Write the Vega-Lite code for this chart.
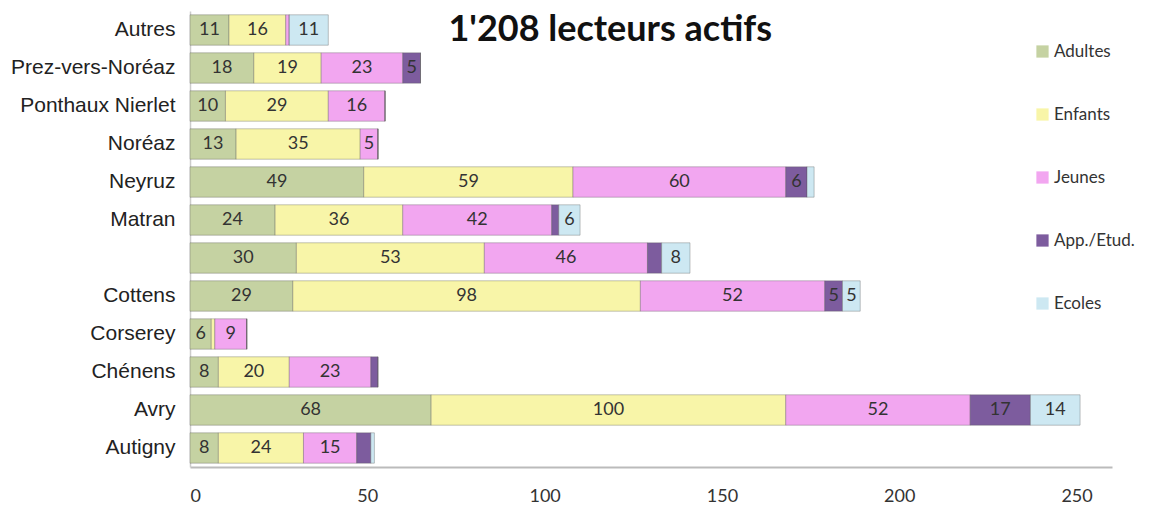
{
  "$schema": "https://vega.github.io/schema/vega-lite/v6.json",
  "width": 922,
  "height": 456,
  "autosize": {"type": "none"},
  "padding": {"left": 190, "top": 11, "right": 44, "bottom": 39},
  "background": "white",
  "config": {"view": {"stroke": null}},
  "data": {
    "values": [
      {"commune": "Autres", "type": "Adultes", "value": 11},
      {"commune": "Autres", "type": "Enfants", "value": 16},
      {"commune": "Autres", "type": "Jeunes", "value": 1},
      {"commune": "Autres", "type": "App./Etud.", "value": 0},
      {"commune": "Autres", "type": "Ecoles", "value": 11},
      {"commune": "Prez-vers-Noréaz", "type": "Adultes", "value": 18},
      {"commune": "Prez-vers-Noréaz", "type": "Enfants", "value": 19},
      {"commune": "Prez-vers-Noréaz", "type": "Jeunes", "value": 23},
      {"commune": "Prez-vers-Noréaz", "type": "App./Etud.", "value": 5},
      {"commune": "Prez-vers-Noréaz", "type": "Ecoles", "value": 0},
      {"commune": "Ponthaux Nierlet", "type": "Adultes", "value": 10},
      {"commune": "Ponthaux Nierlet", "type": "Enfants", "value": 29},
      {"commune": "Ponthaux Nierlet", "type": "Jeunes", "value": 16},
      {"commune": "Ponthaux Nierlet", "type": "App./Etud.", "value": 0},
      {"commune": "Ponthaux Nierlet", "type": "Ecoles", "value": 0},
      {"commune": "Noréaz", "type": "Adultes", "value": 13},
      {"commune": "Noréaz", "type": "Enfants", "value": 35},
      {"commune": "Noréaz", "type": "Jeunes", "value": 5},
      {"commune": "Noréaz", "type": "App./Etud.", "value": 0},
      {"commune": "Noréaz", "type": "Ecoles", "value": 0},
      {"commune": "Neyruz", "type": "Adultes", "value": 49},
      {"commune": "Neyruz", "type": "Enfants", "value": 59},
      {"commune": "Neyruz", "type": "Jeunes", "value": 60},
      {"commune": "Neyruz", "type": "App./Etud.", "value": 6},
      {"commune": "Neyruz", "type": "Ecoles", "value": 2},
      {"commune": "Matran", "type": "Adultes", "value": 24},
      {"commune": "Matran", "type": "Enfants", "value": 36},
      {"commune": "Matran", "type": "Jeunes", "value": 42},
      {"commune": "Matran", "type": "App./Etud.", "value": 2},
      {"commune": "Matran", "type": "Ecoles", "value": 6},
      {"commune": " ", "type": "Adultes", "value": 30},
      {"commune": " ", "type": "Enfants", "value": 53},
      {"commune": " ", "type": "Jeunes", "value": 46},
      {"commune": " ", "type": "App./Etud.", "value": 4},
      {"commune": " ", "type": "Ecoles", "value": 8},
      {"commune": "Cottens", "type": "Adultes", "value": 29},
      {"commune": "Cottens", "type": "Enfants", "value": 98},
      {"commune": "Cottens", "type": "Jeunes", "value": 52},
      {"commune": "Cottens", "type": "App./Etud.", "value": 5},
      {"commune": "Cottens", "type": "Ecoles", "value": 5},
      {"commune": "Corserey", "type": "Adultes", "value": 6},
      {"commune": "Corserey", "type": "Enfants", "value": 1},
      {"commune": "Corserey", "type": "Jeunes", "value": 9},
      {"commune": "Corserey", "type": "App./Etud.", "value": 0},
      {"commune": "Corserey", "type": "Ecoles", "value": 0},
      {"commune": "Chénens", "type": "Adultes", "value": 8},
      {"commune": "Chénens", "type": "Enfants", "value": 20},
      {"commune": "Chénens", "type": "Jeunes", "value": 23},
      {"commune": "Chénens", "type": "App./Etud.", "value": 2},
      {"commune": "Chénens", "type": "Ecoles", "value": 0},
      {"commune": "Avry", "type": "Adultes", "value": 68},
      {"commune": "Avry", "type": "Enfants", "value": 100},
      {"commune": "Avry", "type": "Jeunes", "value": 52},
      {"commune": "Avry", "type": "App./Etud.", "value": 17},
      {"commune": "Avry", "type": "Ecoles", "value": 14},
      {"commune": "Autigny", "type": "Adultes", "value": 8},
      {"commune": "Autigny", "type": "Enfants", "value": 24},
      {"commune": "Autigny", "type": "Jeunes", "value": 15},
      {"commune": "Autigny", "type": "App./Etud.", "value": 4},
      {"commune": "Autigny", "type": "Ecoles", "value": 1}
    ]
  },
  "transform": [
    {"stack": "value", "groupby": ["commune"], "as": ["x0", "x1"]}
  ],
  "encoding": {
    "y": {
      "field": "commune",
      "type": "nominal",
      "sort": null,
      "scale": {"paddingInner": 0.2, "paddingOuter": 0.1},
      "axis": {
        "title": null,
        "ticks": false,
        "domainColor": "#cccccc",
        "domainWidth": 1.5,
        "labelFont": "Liberation Sans",
        "labelFontSize": 21,
        "labelColor": "#222222",
        "labelPadding": 15
      }
    }
  },
  "layer": [
    {
      "mark": {"type": "bar", "stroke": "#555555", "strokeOpacity": 0.35, "strokeWidth": 1},
      "encoding": {
        "x": {
          "field": "x0",
          "type": "quantitative",
          "scale": {"domain": [0, 260], "nice": false},
          "axis": {
            "title": null,
            "values": [0, 50, 100, 150, 200, 250],
            "grid": false,
            "ticks": false,
            "domainColor": "#bbbbbb",
            "domainWidth": 2,
            "labelFont": "Lato",
            "labelFontSize": 18,
            "labelColor": "#333333",
            "labelPadding": 20
          }
        },
        "x2": {"field": "x1"},
        "color": {
          "field": "type",
          "type": "nominal",
          "sort": ["Adultes", "Enfants", "Jeunes", "App./Etud.", "Ecoles"],
          "scale": {
            "domain": ["Adultes", "Enfants", "Jeunes", "App./Etud.", "Ecoles"],
            "range": ["#c5d2a2", "#f8f5a8", "#f2a6f0", "#7d5c9e", "#cde8f2"]
          },
          "legend": {
            "title": null,
            "orient": "none",
            "legendX": 844,
            "legendY": 32,
            "symbolType": "square",
            "symbolSize": 150,
            "symbolStrokeWidth": 0,
            "labelFont": "Lato",
            "labelFontSize": 17,
            "labelColor": "#333333",
            "labelOffset": 3,
            "rowPadding": 45
          }
        }
      }
    },
    {
      "transform": [
        {"filter": "datum.value >= 5"},
        {"calculate": "(datum.x0 + datum.x1) / 2", "as": "xm"}
      ],
      "mark": {"type": "text", "font": "Lato", "fontSize": 18, "color": "#333333"},
      "encoding": {
        "x": {"field": "xm", "type": "quantitative"},
        "text": {"field": "value", "type": "quantitative"}
      }
    },
    {
      "data": {"values": [{"title": "1'208 lecteurs actifs"}]},
      "mark": {"type": "text", "font": "Lato", "fontSize": 36, "fontWeight": "bold", "color": "#111111", "align": "center", "baseline": "middle"},
      "encoding": {
        "x": {"datum": 118.5, "type": "quantitative"},
        "y": {"datum": "Autres"},
        "text": {"field": "title", "type": "nominal"}
      }
    }
  ]
}
